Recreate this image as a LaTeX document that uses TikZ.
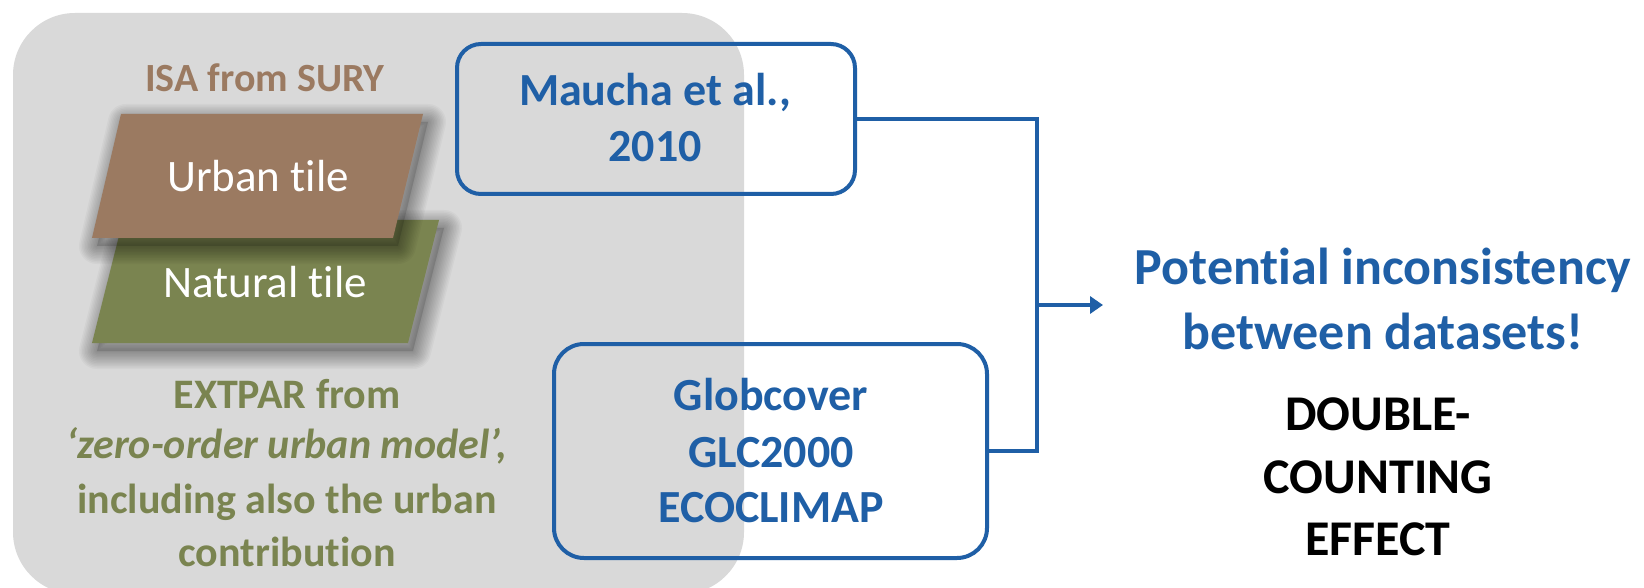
\documentclass[tikz,border=0pt]{standalone}
\usepackage{fontspec}
\setmainfont{Carlito}[Ligatures={NoCommon,NoRequired,NoContextual,NoRare}]
\usetikzlibrary{arrows.meta}
\definecolor{bluec}{RGB}{31,95,166}
\definecolor{brownc}{RGB}{155,122,97}
\definecolor{greenc}{RGB}{122,132,80}
\definecolor{greyc}{RGB}{217,217,217}
\newcommand{\fsz}[2]{\fontsize{#1}{#2}\selectfont}
\newcommand{\tisplit}{t\kern0pt i}
\newcommand{\softshadow}[1]{%
  \begin{scope}[shift={(5,8)}]
    \fill[black, opacity=0.12] #1;
    \foreach \w in {36,33,...,3} {\draw[black, line width=\w pt, opacity=0.03, line join=round] #1;}
  \end{scope}}
\begin{document}
\begin{tikzpicture}[x=1pt,y=-1pt,
  line/.style={draw=bluec, line width=4pt},
  databox/.style={draw=bluec, line width=4pt, inner sep=0pt},
  bluetxt/.style={text=bluec, font=\fsz{46}{56}\bfseries, anchor=base, inner sep=0pt},
  tiletxt/.style={text=white, font=\fsz{45}{54}, anchor=base, inner sep=0pt},
  exttxt/.style={text=greenc, font=\fsz{42}{53}\bfseries, anchor=base, inner sep=0pt},
  isatxt/.style={text=brownc, font=\fsz{40}{48}\bfseries, anchor=base, inner sep=0pt},
  bigblue/.style={text=bluec, font=\fsz{52}{65}\bfseries, anchor=base, inner sep=0pt},
  blacktxt/.style={text=black, font=\fsz{50}{62}\bfseries, anchor=base, inner sep=0pt}]
\useasboundingbox (0,0) rectangle (1644,588);
\fill[white] (0,0) rectangle (1644,588);
% grey panel
\fill[greyc, rounded corners=62pt] (13,13) rectangle (744,594);
% natural tile
\softshadow{(123,220) -- (439,220) -- (408,343) -- (92,343) -- cycle}
\fill[greenc] (123,220) -- (439,220) -- (408,343) -- (92,343) -- cycle;
% urban tile
\softshadow{(121,114) -- (423,114) -- (393,238) -- (92,238) -- cycle}
\fill[brownc] (121,114) -- (423,114) -- (393,238) -- (92,238) -- cycle;
\node[tiletxt] (urb) at (258,192) {Urban \tisplit le};
\node[tiletxt] (nat) at (265,298) {Natural \tisplit le};
\node[isatxt] (isa) at (265,92) {ISA from SURY};
\node[exttxt] (ext1) at (287,408) {EXTPAR from};
\node[exttxt, font=\fsz{42}{53}\bfseries\itshape] (ext2) at (287,458) {‘zero-order urban model’,};
\node[exttxt] (ext3) at (287,513) {including also the urban};
\node[exttxt] (ext4) at (287,566) {contribu\tisplit on};
% data boxes
\node[databox, rounded corners=24pt, minimum width=398pt, minimum height=150pt] (m) at (656,119) {};
\node[bluetxt] (m1) at (655,106) {Maucha et al.,};
\node[bluetxt] (m2) at (655,162) {2010};
\node[databox, rounded corners=30pt, minimum width=433pt, minimum height=214pt] (g) at (770.5,451) {};
\node[bluetxt] (g1) at (771,410) {Globcover};
\node[bluetxt] (g2) at (771,467) {GLC2000};
\node[bluetxt] (g3) at (771,522) {ECOCLIMAP};
% connectors
\coordinate (j) at (1037,305);
\coordinate (tip) at (1103,305);
\draw[line] (m.east) -| (j) |- (g.east);
\draw[line, -{Triangle[length=13pt,width=17pt]}] (j) -- (tip);
% conclusions
\node[bigblue] (p1) at (1383,284) {Poten\tisplit al inconsistency};
\node[bigblue] (p2) at (1383,349) {between datasets!};
\node[blacktxt] (d1) at (1378,430) {DOUBLE-};
\node[blacktxt] (d2) at (1378,493) {COUNTING};
\node[blacktxt] (d3) at (1378,555) {EFFECT};
\end{tikzpicture}
\end{document}
